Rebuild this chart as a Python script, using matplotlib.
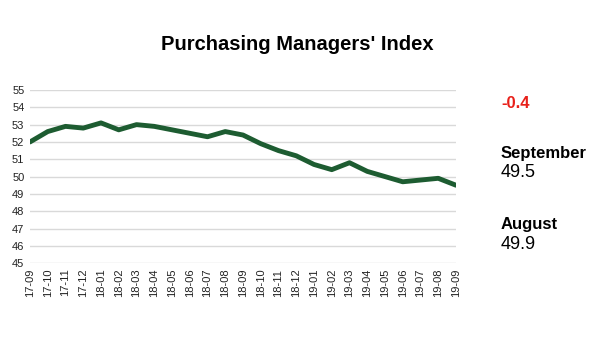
import matplotlib
matplotlib.use('Agg')
import matplotlib.pyplot as plt

plt.rcParams['font.family'] = ['Liberation Sans', 'DejaVu Sans']

months = ['17-09', '17-10', '17-11', '17-12', '18-01', '18-02', '18-03',
          '18-04', '18-05', '18-06', '18-07', '18-08', '18-09', '18-10',
          '18-11', '18-12', '19-01', '19-02', '19-03', '19-04', '19-05',
          '19-06', '19-07', '19-08', '19-09']
pmi = [52.0, 52.6, 52.9, 52.8, 53.1, 52.7, 53.0, 52.9, 52.7, 52.5, 52.3,
       52.6, 52.4, 51.9, 51.5, 51.2, 50.7, 50.4, 50.8, 50.3, 50.0, 49.7,
       49.8, 49.9, 49.5]
yticks = list(range(45, 56))

change = '-0.4'
cur_month, cur_val = 'September', '49.5'
prev_month, prev_val = 'August', '49.9'

fig = plt.figure(figsize=(6, 3.6), dpi=100)
ax = fig.add_axes([0.05, 0.269, 0.71, 0.481])

x = list(range(len(months)))
ax.plot(x, pmi, color='#1d5c31', linewidth=3.5, solid_joinstyle='round',
        solid_capstyle='round', zorder=3)

ax.set_xlim(0, len(months) - 1)
ax.set_ylim(45, 55)
ax.set_yticks(yticks)
ax.set_xticks(x)
ax.set_xticklabels(months, rotation=90, fontsize=8, color='#222222')
ax.tick_params(axis='y', labelsize=8, colors='#222222', length=0, pad=4)
ax.tick_params(axis='x', length=0, pad=4)
ax.grid(axis='y', color='#d9d9d9', linewidth=1)
ax.set_axisbelow(True)
for s in ax.spines.values():
    s.set_visible(False)

fig.text(0.495, 0.875, "Purchasing Managers' Index", ha='center', va='center',
         fontsize=14.5, fontweight='bold')

fig.text(0.835, 0.713, change, color='#e8201a', fontsize=12,
         fontweight='bold', va='center')
fig.text(0.835, 0.575, cur_month, fontsize=12, fontweight='bold', va='center')
fig.text(0.835, 0.522, cur_val, fontsize=13, va='center')
fig.text(0.835, 0.375, prev_month, fontsize=12, fontweight='bold', va='center')
fig.text(0.835, 0.32, prev_val, fontsize=13, va='center')

fig.savefig('out.png', dpi=100)
